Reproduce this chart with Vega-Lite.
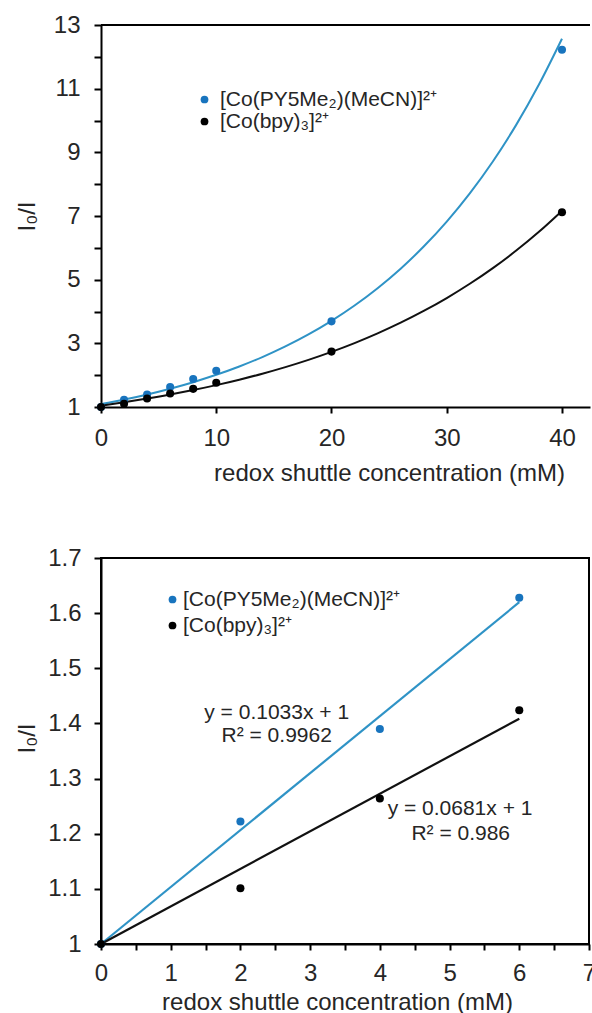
{
  "$schema": "https://vega.github.io/schema/vega-lite/v6.json",
  "background": "white",
  "padding": {"left": 14, "top": 13, "right": 2, "bottom": 0},
  "config": {
    "font": "Liberation Sans",
    "view": {"stroke": null},
    "axis": {
      "domainColor": "#000", "domainWidth": 2, "tickColor": "#000", "tickWidth": 2,
      "grid": false, "labelFont": "Liberation Sans", "labelColor": "#262626",
      "titleFont": "Liberation Sans", "titleColor": "#262626", "titleFontWeight": "normal",
      "labelFontSize": 24, "titleFontSize": 24, "labelOverlap": false, "labelFlush": false
    },
    "legend": {"labelFont": "Liberation Sans", "labelColor": "#262626", "labelFontSize": 21, "labelLimit": 500, "symbolType": "circle", "symbolSize": 60, "padding": 0, "symbolStrokeWidth": 0}
  },
  "datasets": {
    "topPts": [
      {"series": "[Co(PY5Me₂)(MeCN)]²⁺", "x": 0, "y": 1},
      {"series": "[Co(PY5Me₂)(MeCN)]²⁺", "x": 2, "y": 1.223},
      {"series": "[Co(PY5Me₂)(MeCN)]²⁺", "x": 4, "y": 1.39},
      {"series": "[Co(PY5Me₂)(MeCN)]²⁺", "x": 6, "y": 1.628},
      {"series": "[Co(PY5Me₂)(MeCN)]²⁺", "x": 8, "y": 1.88},
      {"series": "[Co(PY5Me₂)(MeCN)]²⁺", "x": 10, "y": 2.14},
      {"series": "[Co(PY5Me₂)(MeCN)]²⁺", "x": 20, "y": 3.69},
      {"series": "[Co(PY5Me₂)(MeCN)]²⁺", "x": 40, "y": 12.22},
      {"series": "[Co(bpy)₃]²⁺", "x": 0, "y": 1},
      {"series": "[Co(bpy)₃]²⁺", "x": 2, "y": 1.1},
      {"series": "[Co(bpy)₃]²⁺", "x": 4, "y": 1.265},
      {"series": "[Co(bpy)₃]²⁺", "x": 6, "y": 1.425},
      {"series": "[Co(bpy)₃]²⁺", "x": 8, "y": 1.57},
      {"series": "[Co(bpy)₃]²⁺", "x": 10, "y": 1.76},
      {"series": "[Co(bpy)₃]²⁺", "x": 20, "y": 2.74},
      {"series": "[Co(bpy)₃]²⁺", "x": 40, "y": 7.12}
    ],
    "topFit": [
      {"series": "blue", "x": 0, "y": 1.09},
      {"series": "blue", "x": 2, "y": 1.234},
      {"series": "blue", "x": 4, "y": 1.394},
      {"series": "blue", "x": 6, "y": 1.576},
      {"series": "blue", "x": 8, "y": 1.78},
      {"series": "blue", "x": 10, "y": 2.011},
      {"series": "blue", "x": 12, "y": 2.273},
      {"series": "blue", "x": 14, "y": 2.568},
      {"series": "blue", "x": 16, "y": 2.902},
      {"series": "blue", "x": 18, "y": 3.279},
      {"series": "blue", "x": 20, "y": 3.705},
      {"series": "blue", "x": 22, "y": 4.187},
      {"series": "blue", "x": 24, "y": 4.731},
      {"series": "blue", "x": 26, "y": 5.345},
      {"series": "blue", "x": 28, "y": 6.04},
      {"series": "blue", "x": 30, "y": 6.825},
      {"series": "blue", "x": 32, "y": 7.712},
      {"series": "blue", "x": 34, "y": 8.714},
      {"series": "blue", "x": 36, "y": 9.847},
      {"series": "blue", "x": 38, "y": 11.13},
      {"series": "blue", "x": 40, "y": 12.57},
      {"series": "black", "x": 0, "y": 1.042},
      {"series": "black", "x": 2, "y": 1.147},
      {"series": "black", "x": 4, "y": 1.264},
      {"series": "black", "x": 6, "y": 1.391},
      {"series": "black", "x": 8, "y": 1.532},
      {"series": "black", "x": 10, "y": 1.687},
      {"series": "black", "x": 12, "y": 1.858},
      {"series": "black", "x": 14, "y": 2.046},
      {"series": "black", "x": 16, "y": 2.253},
      {"series": "black", "x": 18, "y": 2.481},
      {"series": "black", "x": 20, "y": 2.732},
      {"series": "black", "x": 22, "y": 3.008},
      {"series": "black", "x": 24, "y": 3.313},
      {"series": "black", "x": 26, "y": 3.648},
      {"series": "black", "x": 28, "y": 4.017},
      {"series": "black", "x": 30, "y": 4.423},
      {"series": "black", "x": 32, "y": 4.871},
      {"series": "black", "x": 34, "y": 5.364},
      {"series": "black", "x": 36, "y": 5.906},
      {"series": "black", "x": 38, "y": 6.504},
      {"series": "black", "x": 40, "y": 7.162}
    ],
    "topBorder": [{"x": 0, "x2": 42.43, "y": 13}],
    "botPts": [
      {"series": "[Co(PY5Me₂)(MeCN)]²⁺", "x": 0, "y": 1},
      {"series": "[Co(PY5Me₂)(MeCN)]²⁺", "x": 2, "y": 1.222},
      {"series": "[Co(PY5Me₂)(MeCN)]²⁺", "x": 4, "y": 1.39},
      {"series": "[Co(PY5Me₂)(MeCN)]²⁺", "x": 6, "y": 1.628},
      {"series": "[Co(bpy)₃]²⁺", "x": 0, "y": 1},
      {"series": "[Co(bpy)₃]²⁺", "x": 2, "y": 1.101},
      {"series": "[Co(bpy)₃]²⁺", "x": 4, "y": 1.264},
      {"series": "[Co(bpy)₃]²⁺", "x": 6, "y": 1.424}
    ],
    "botFit": [
      {"series": "blue", "x": 0, "y": 1},
      {"series": "blue", "x": 6, "y": 1.6198},
      {"series": "black", "x": 0, "y": 1},
      {"series": "black", "x": 6, "y": 1.4086}
    ],
    "botText": [
      {"x": 2.52, "y": 1.419, "label": "y = 0.1033x + 1"},
      {"x": 2.52, "y": 1.377, "label": "R² = 0.9962"},
      {"x": 5.15, "y": 1.244, "label": "y = 0.0681x + 1"},
      {"x": 5.16, "y": 1.199, "label": "R² = 0.986"}
    ]
  },
  "spacing": 60,
  "vconcat": [
    {
      "width": 489,
      "height": 382,
      "encoding": {
        "x": {"field": "x", "type": "quantitative",
          "scale": {"domain": [0, 42.43], "nice": false, "zero": false},
          "axis": {"title": "redox shuttle concentration  (mM)", "values": [0, 10, 20, 30, 40], "tickSize": 6, "labelPadding": 13, "titlePadding": 11, "titleX": 288}},
        "y": {"field": "y", "type": "quantitative",
          "scale": {"domain": [1, 13], "nice": false, "zero": false},
          "axis": {"title": "I₀/I", "values": [1, 2, 3, 4, 5, 6, 7, 8, 9, 10, 11, 12, 13],
            "labelExpr": "datum.value % 2 == 1 ? datum.label : ''",
            "tickSize": 7, "labelPadding": 14, "minExtent": 50, "maxExtent": 50, "titlePadding": 12}}
      },
      "layer": [
        {"data": {"name": "topBorder"}, "mark": {"type": "rule", "color": "#000", "strokeWidth": 2},
          "encoding": {"x2": {"field": "x2"}}},
        {"data": {"name": "topFit"}, "mark": {"type": "line", "strokeWidth": 2, "interpolate": "monotone"},
          "encoding": {"stroke": {"field": "series", "type": "nominal", "scale": {"domain": ["blue", "black"], "range": ["#2f93c6", "#111111"]}, "legend": null}}},
        {"data": {"name": "topPts"}, "mark": {"type": "point", "filled": true, "size": 65, "opacity": 1},
          "encoding": {"color": {"field": "series", "type": "nominal",
            "scale": {"domain": ["[Co(PY5Me₂)(MeCN)]²⁺", "[Co(bpy)₃]²⁺"], "range": ["#1874be", "#000000"]},
            "legend": {"title": null, "orient": "none", "legendX": 93, "legendY": 64, "labelOffset": 5, "rowPadding": 0}}}}
      ]
    },
    {
      "width": 488,
      "height": 386,
      "encoding": {
        "x": {"field": "x", "type": "quantitative",
          "scale": {"domain": [0, 7], "nice": false, "zero": false},
          "axis": {"title": "redox shuttle concentration   (mM)", "values": [0, 0.5, 1, 1.5, 2, 2.5, 3, 3.5, 4, 4.5, 5, 5.5, 6, 6.5, 7], "format": "~g",
            "labelExpr": "datum.value % 1 == 0 ? datum.label : ''", "tickSize": 6, "labelPadding": 11, "titlePadding": 5, "titleX": 236}},
        "y": {"field": "y", "type": "quantitative",
          "scale": {"domain": [1, 1.7], "nice": false, "zero": false},
          "axis": {"title": "I₀/I", "values": [1, 1.1, 1.2, 1.3, 1.4, 1.5, 1.6, 1.7], "format": "~g",
            "tickSize": 7, "labelPadding": 13, "minExtent": 50, "maxExtent": 50, "titlePadding": 12, "titleY": 180}}
      },
      "layer": [
        {"data": {"name": "botFit"}, "mark": {"type": "line", "strokeWidth": 2.2},
          "encoding": {"stroke": {"field": "series", "type": "nominal", "scale": {"domain": ["blue", "black"], "range": ["#2f93c6", "#111111"]}, "legend": null}}},
        {"data": {"name": "botPts"}, "mark": {"type": "point", "filled": true, "size": 65, "opacity": 1},
          "encoding": {"color": {"field": "series", "type": "nominal",
            "scale": {"domain": ["[Co(PY5Me₂)(MeCN)]²⁺", "[Co(bpy)₃]²⁺"], "range": ["#1874be", "#000000"]},
            "legend": {"title": null, "orient": "none", "legendX": 61, "legendY": 31, "labelOffset": 0, "rowPadding": 4}}}},
        {"data": {"name": "botText"}, "mark": {"type": "text", "font": "Liberation Sans", "fontSize": 21, "color": "#262626", "align": "center", "baseline": "middle"},
          "encoding": {"text": {"field": "label"}}}
      ],
      "view": {"stroke": "#000", "strokeWidth": 2}
    }
  ],
  "resolve": {"scale": {"color": "independent", "stroke": "independent", "x": "independent", "y": "independent"}, "legend": {"color": "independent"}}
}
